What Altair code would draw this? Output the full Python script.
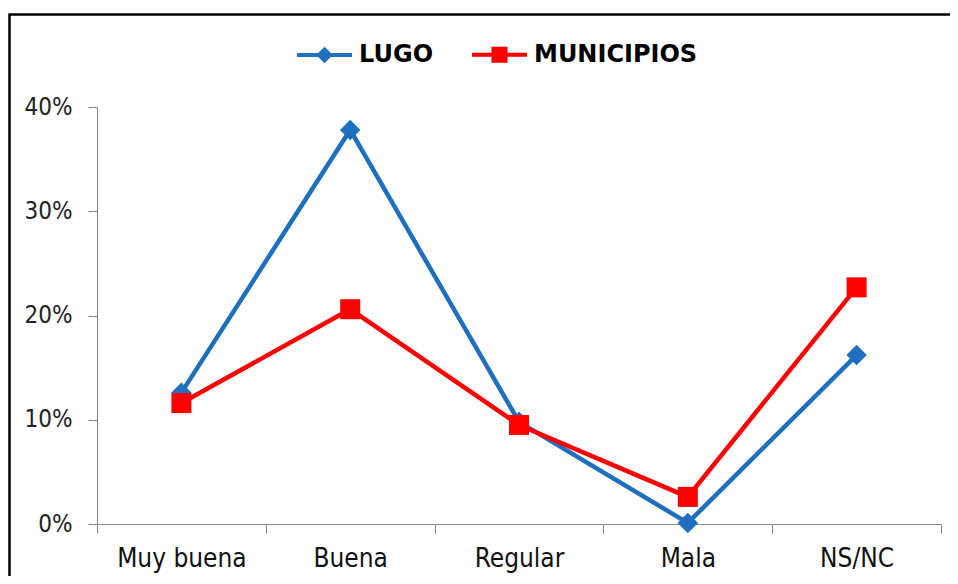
import altair as alt
import pandas as pd

categories = ["Muy buena", "Buena", "Regular", "Mala", "NS/NC"]
series_names = ["LUGO", "MUNICIPIOS"]
lugo = [0.126, 0.378, 0.098, 0.001, 0.162]
municipios = [0.116, 0.206, 0.095, 0.026, 0.227]
y_ticks = [0, 0.1, 0.2, 0.3, 0.4]
colors = ["#1E70BF", "#FF0000"]

rows = []
for c, v in zip(categories, lugo):
    rows.append({"cat": c, "serie": "LUGO", "val": v})
for c, v in zip(categories, municipios):
    rows.append({"cat": c, "serie": "MUNICIPIOS", "val": v})
df = pd.DataFrame(rows)

FONT = "DejaVu Sans Condensed, DejaVu Sans"
LEGEND_FONT = "DejaVu Sans"

x = alt.X(
    "cat:N",
    sort=categories,
    scale=alt.Scale(type="band", paddingInner=0, paddingOuter=0),
    axis=alt.Axis(
        title=None, labelAngle=0, tickBand="extent", tickSize=9,
        labelPadding=12, domainColor="#868686", tickColor="#868686",
        labelFont=FONT, labelFontSize=26, labelColor="#111111",
    ),
)
y = alt.Y(
    "val:Q",
    scale=alt.Scale(domain=[0, 0.4], nice=False),
    axis=alt.Axis(
        title=None, values=y_ticks, format=".0%", grid=False, tickSize=9,
        labelPadding=16, domainColor="#868686", tickColor="#868686",
        labelFont=FONT, labelFontSize=24, labelColor="#222222",
    ),
)

base = alt.Chart(df)

line_l = base.transform_filter(alt.datum.serie == "LUGO").mark_line(
    strokeWidth=4.5, color=colors[0]).encode(x=x, y=y)
pts_l = base.transform_filter(alt.datum.serie == "LUGO").mark_point(
    shape="diamond", filled=True, size=420, opacity=1, color=colors[0]).encode(x=x, y=y)
line_m = base.transform_filter(alt.datum.serie == "MUNICIPIOS").mark_line(
    strokeWidth=4.5, color=colors[1]).encode(x=x, y=y)
pts_m = base.transform_filter(alt.datum.serie == "MUNICIPIOS").mark_point(
    shape="square", filled=True, size=400, opacity=1, color=colors[1]).encode(x=x, y=y)

sym_lugo = "M-1,0H1M0,-0.2L0.2,0L0,0.2L-0.2,0Z"
sym_mun = "M-1,0H1M-0.22,-0.22H0.22V0.22H-0.22Z"

legend_common = dict(
    orient="none", legendX=198, legendY=-82, direction="horizontal",
    title=None, symbolSize=3025, symbolStrokeWidth=4, labelOffset=5,
    columnPadding=30, labelFont=LEGEND_FONT, labelFontSize=24, labelFontWeight="bold",
    labelColor="#000000", labelLimit=400, padding=0, symbolOpacity=1,
)
legend_layer = base.mark_point(filled=True, size=0, strokeWidth=0).encode(
    x=x, y=y,
    fill=alt.Fill("serie:N", scale=alt.Scale(domain=series_names, range=colors),
                  legend=alt.Legend(**legend_common)),
    stroke=alt.Stroke("serie:N", scale=alt.Scale(domain=series_names, range=colors),
                      legend=alt.Legend(**legend_common)),
    shape=alt.Shape("serie:N", scale=alt.Scale(domain=series_names, range=[sym_lugo, sym_mun]),
                    legend=alt.Legend(**legend_common)),
)

frame = alt.Chart(alt.Data(values=[{"a": 1}])).mark_rect(
    fill=None, stroke="#000000", strokeWidth=2.5
).encode(x=alt.value(-87.5), x2=alt.value(900), y=alt.value(-92.5), y2=alt.value(600))

chart = alt.layer(frame, line_l, pts_l, line_m, pts_m, legend_layer).properties(
    width=844, height=417,
    autosize=alt.AutoSizeParams(type="none"),
    padding={"left": 89, "top": 99, "right": 9, "bottom": 52},
).configure_view(stroke=None).configure_legend(symbolOpacity=1)

chart.save("out.html", embed_options={"renderer": "svg", "actions": False})
